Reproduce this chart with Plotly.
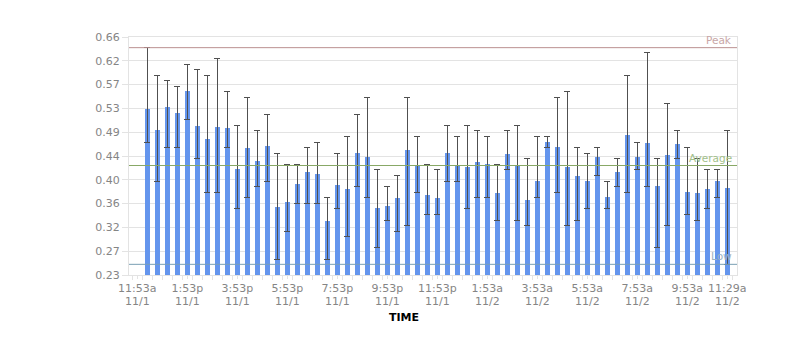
import numpy as np
import pandas as pd
import plotly.graph_objects as go

# ---- data ----
values = [0.5304, 0.4912, 0.5328, 0.5220, 0.5617, 0.4984, 0.4749, 0.4966, 0.4948, 0.4207,
          0.4587, 0.4352, 0.4623, 0.3520, 0.3610, 0.3936, 0.4153, 0.4116, 0.3267, 0.3918,
          0.3845, 0.4496, 0.4424, 0.3502, 0.3538, 0.3676, 0.4550, 0.4273, 0.3737, 0.3676,
          0.4496, 0.4273, 0.4249, 0.4334, 0.4297, 0.3773, 0.4478, 0.4273, 0.3646, 0.3990,
          0.4695, 0.4605, 0.4249, 0.4080, 0.3990, 0.4424, 0.3701, 0.4153, 0.4822, 0.4424,
          0.4677, 0.3899, 0.4460, 0.4659, 0.3791, 0.3773, 0.3845, 0.3990, 0.3863]
err_high = [0.6407, 0.5901, 0.5804, 0.5696, 0.6100, 0.6003, 0.5901, 0.6202, 0.5605, 0.4991,
            0.5497, 0.4906, 0.5189, 0.4484, 0.4285, 0.4285, 0.4593, 0.4683, 0.3688, 0.4484,
            0.4792, 0.5189, 0.5497, 0.4201, 0.3893, 0.4086, 0.5497, 0.4792, 0.4285, 0.4201,
            0.4991, 0.4792, 0.4991, 0.4906, 0.4792, 0.4285, 0.4906, 0.4991, 0.4400, 0.4792,
            0.4792, 0.5497, 0.5605, 0.4593, 0.4484, 0.4593, 0.3978, 0.4400, 0.5907, 0.4683,
            0.6317, 0.4400, 0.5394, 0.4906, 0.4593, 0.4400, 0.4201, 0.4201, 0.4906]
err_low = [0.4683, 0.3978, 0.4599, 0.4599, 0.5105, 0.4400, 0.3779, 0.3779, 0.4599, 0.3496,
           0.3694, 0.3893, 0.3978, 0.2573, 0.3080, 0.3586, 0.3586, 0.3586, 0.2573, 0.3496,
           0.2989, 0.3893, 0.3694, 0.2790, 0.3279, 0.3080, 0.3188, 0.3779, 0.3387, 0.3387,
           0.3978, 0.3978, 0.3496, 0.3694, 0.3694, 0.3279, 0.4201, 0.3279, 0.3188, 0.3694,
           0.4599, 0.3779, 0.3188, 0.3279, 0.3496, 0.4086, 0.3496, 0.3893, 0.3779, 0.4201,
           0.3893, 0.2790, 0.3188, 0.4400, 0.3387, 0.3279, 0.3496, 0.3694, 0.2483]
average = 0.4273

times = pd.date_range("2013-11-01 12:17", periods=len(values), freq="24min")

tick_times = ["2013-11-01 11:53", "2013-11-01 13:53", "2013-11-01 15:53", "2013-11-01 17:53",
              "2013-11-01 19:53", "2013-11-01 21:53", "2013-11-01 23:53", "2013-11-02 01:53",
              "2013-11-02 03:53", "2013-11-02 05:53", "2013-11-02 07:53", "2013-11-02 09:53",
              "2013-11-02 11:29"]
tick_hours = ["11:53a", "1:53p", "3:53p", "5:53p", "7:53p", "9:53p", "11:53p",
              "1:53a", "3:53a", "5:53a", "7:53a", "9:53a", "11:29a"]
tick_dates = ["11/1", "11/1", "11/1", "11/1", "11/1", "11/1", "11/1",
              "11/2", "11/2", "11/2", "11/2", "11/2", "11/2"]
y_tick_labels = ["0.23", "0.27", "0.32", "0.36", "0.40", "0.44", "0.49", "0.53", "0.57", "0.62", "0.66"]
y_min, y_max = 0.229, 0.66

v = np.array(values)
hi = np.array(err_high)
lo = np.array(err_low)
peak = hi.max()
low = lo.min()

GRID = "#e3e3e3"
TXT = "#858585"
FONT = "DejaVu Sans"

fig = go.Figure()
fig.add_trace(go.Bar(
    x=times, y=v, width=12 * 60 * 1000,
    marker=dict(color="#6495ED", line=dict(width=0)),
    error_y=dict(type="data", symmetric=False, array=hi - v, arrayminus=v - lo,
                 color="#505050", thickness=1, width=3),
    hoverinfo="x+y",
))

lines = [(peak, "Peak", "#bb9090", "#c8a6a6"),
         (average, "Average", "#88a866", "#a2c08a"),
         (low, "Low", "#7a9fb4", "#9cb3c2")]
for val, name, lc, tc in lines:
    fig.add_shape(type="line", xref="paper", x0=0, x1=1, yref="y", y0=val, y1=val,
                  line=dict(color=lc, width=1), layer="above")
    fig.add_annotation(xref="paper", x=1, xanchor="right", xshift=-3,
                       yref="y", y=val, yanchor="bottom", yshift=0,
                       text=name, showarrow=False,
                       font=dict(family=FONT, size=10.5, color=tc))

for t, d in zip(tick_times, tick_dates):
    fig.add_annotation(xref="x", x=t, yref="paper", y=0, yanchor="middle", yshift=-26.5,
                       text=d, showarrow=False, font=dict(family=FONT, size=11, color=TXT))

fig.add_annotation(xref="paper", x=(403.5 - 129) / 608, yref="paper", y=0, yanchor="middle",
                   yshift=-42, text="<b>TIME</b>", showarrow=False,
                   font=dict(family=FONT, size=11, color="#000000"))

fig.update_layout(
    width=807, height=352,
    margin=dict(l=129, r=70, t=37, b=77),
    paper_bgcolor="white", plot_bgcolor="white",
    showlegend=False,
    font=dict(family=FONT, size=11, color=TXT),
    bargap=0,
)
fig.update_xaxes(
    type="date", range=["2013-11-01 11:33", "2013-11-02 11:52:20"],
    tickvals=tick_times, ticktext=tick_hours,
    ticks="outside", ticklen=3, tickcolor=GRID,
    minor=dict(ticks="outside", ticklen=4, tickcolor=GRID,
               tick0="2013-11-01 12:05", dtick=24 * 60 * 1000),
    showgrid=False, showline=True, linecolor=GRID, mirror=True, zeroline=False,
    tickfont=dict(family=FONT, size=11, color=TXT),
)
fig.update_yaxes(
    range=[y_min, y_max],
    tickvals=list(np.linspace(y_min, y_max, len(y_tick_labels))), ticktext=y_tick_labels,
    ticks="outside", ticklen=6, tickcolor=GRID,
    showgrid=True, gridcolor=GRID, gridwidth=1,
    showline=True, linecolor=GRID, mirror=True, zeroline=False,
    tickfont=dict(family=FONT, size=11, color=TXT),
)

fig.write_html("out.html")
